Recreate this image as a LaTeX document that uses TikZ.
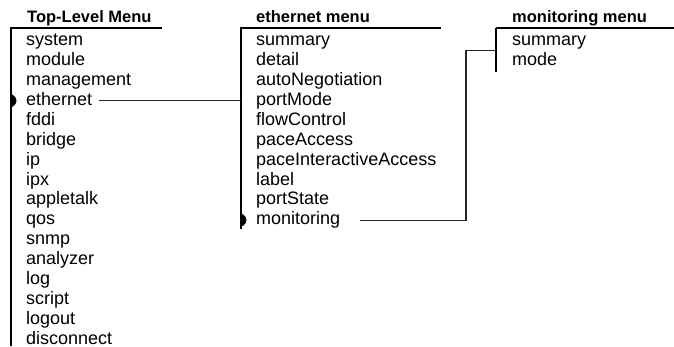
\documentclass[tikz,border=0pt]{standalone}
\usepackage{fontspec}
\setmainfont{Liberation Sans}
\begin{document}
\begin{tikzpicture}[x=1pt,y=-1pt,
  item/.style={anchor=west,inner sep=0pt,font=\fontsize{18}{20}\selectfont,text height=9.4pt,text depth=0pt},
  head/.style={anchor=base west,inner sep=0pt,font=\fontsize{16.5}{18}\bfseries\selectfont},
  rule/.style={line width=1.1pt,black},
  conn/.style={line width=1.1pt,black!85},
  markarrow/.pic={\fill[black] (0,-6.5) -- (1.5,-6) .. controls (4.5,-4) and (5.5,-2) .. (5.5,0) .. controls (5.5,2) and (4.5,4) .. (1.5,6) -- (0,6.5) -- cycle;}
]
\useasboundingbox (0,0) rectangle (674,346);
% Top-level menu
\node[head] (th) at (27,22) {Top-Level Menu};
\coordinate (tvt) at (11,28);
\coordinate (tvb) at (11,346);
\draw[rule] (10,28) -- (162,28);
\draw[rule] (tvt) -- (tvb);
\node[item] (t0) at (26,41.0) {system};
\node[item] (t1) at (26,60.9) {module};
\node[item] (t2) at (26,80.8) {management};
\node[item] (te) at (26,100.7) {ethernet};
\node[item] (t4) at (26,120.6) {fddi};
\node[item] (t5) at (26,140.5) {bridge};
\node[item] (t6) at (26,160.4) {ip};
\node[item] (t7) at (26,180.3) {ipx};
\node[item] (t8) at (26,200.2) {appletalk};
\node[item] (t9) at (26,220.1) {qos};
\node[item] (t10) at (26,240.0) {snmp};
\node[item] (t11) at (26,259.9) {analyzer};
\node[item] (t12) at (26,279.8) {log};
\node[item] (t13) at (26,299.7) {script};
\node[item] (t14) at (26,319.6) {logout};
\node[item] (t15) at (26,339.5) {disconnect};
\pic at (te.west -| tvt) {markarrow};
% Ethernet menu
\node[head] (eh) at (256,22) {ethernet menu};
\coordinate (evt) at (241,28);
\coordinate (evb) at (241,229);
\draw[rule] (240,28) -- (441,28);
\draw[rule] (evt) -- (evb);
\node[item] (e0) at (256,41.0) {summary};
\node[item] (e1) at (256,60.9) {detail};
\node[item] (e2) at (256,80.8) {autoNegotiation};
\node[item] (e3) at (256,100.7) {portMode};
\node[item] (e4) at (256,120.6) {flowControl};
\node[item] (e5) at (256,140.5) {paceAccess};
\node[item] (e6) at (256,160.4) {paceInteractiveAccess};
\node[item] (e7) at (256,180.3) {label};
\node[item] (e8) at (256,200.2) {portState};
\node[item] (em) at (256,220.1) {monitoring};
\pic at (em.west -| evt) {markarrow};
% Monitoring menu
\node[head] (mh) at (512,22) {monitoring menu};
\coordinate (mvt) at (496,28);
\coordinate (mvb) at (496,72);
\draw[rule] (mvt) -- (674,28);
\draw[rule] (mvt) -- (mvb);
\node[item] (m0) at (512,41.0) {summary};
\node[item] (m1) at (512,60.9) {mode};
% Connectors
\draw[conn] ([xshift=7pt]te.east) -- (te.east -| evt);
\coordinate (mj) at (466,50.7);
\draw[conn] ([xshift=20pt]em.east) -| (mj) -- (mj -| mvt);
\end{tikzpicture}
\end{document}
